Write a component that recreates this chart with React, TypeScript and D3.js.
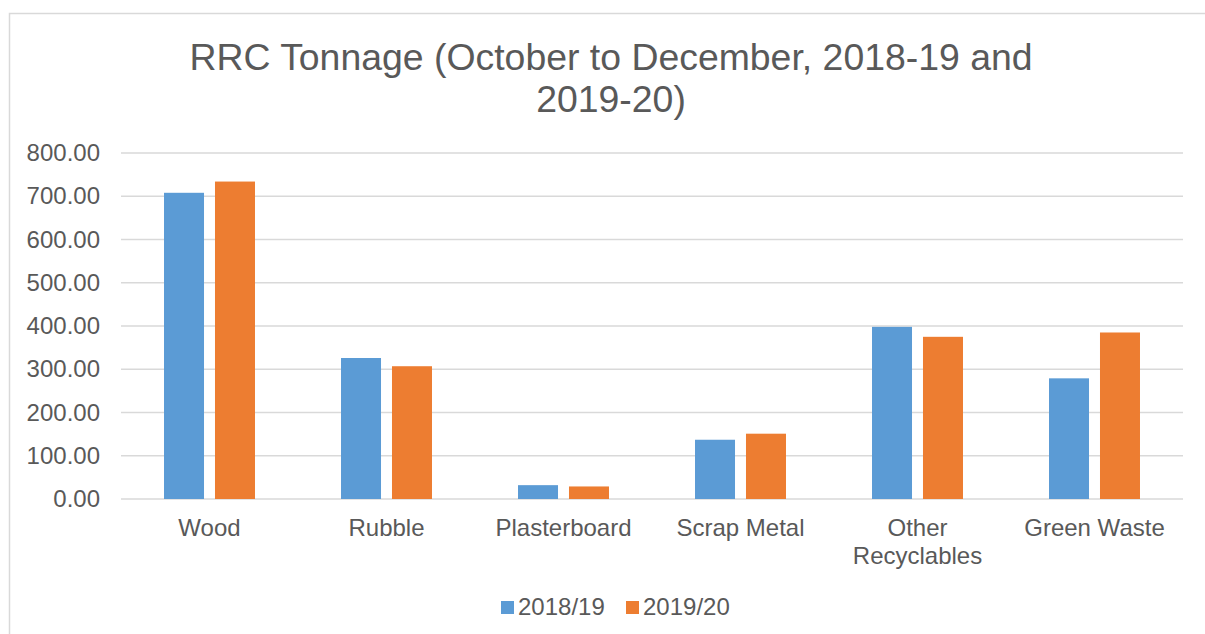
import React from "react";
import * as d3 from "d3";

const categories = ["Wood", "Rubble", "Plasterboard", "Scrap Metal", "Other Recyclables", "Green Waste"];
const seriesNames = ["2018/19", "2019/20"];
const values1819 = [708, 326, 32, 137, 398, 279];
const values1920 = [734, 307, 29, 151, 375, 385];
const yTicks = [0, 100, 200, 300, 400, 500, 600, 700, 800];
const titleLines = ["RRC Tonnage (October to December, 2018-19 and", "2019-20)"];

const colors = ["#5b9bd5", "#ed7d31"];
const textColor = "#595959";
const gridColor = "#d9d9d9";
const font = "'Liberation Sans', Arial, sans-serif";

function wrapLabel(s: string) {
  // long category names go on two lines, like the original
  if (s.length > 12 && s.includes(" ")) return s.split(" ");
  return [s];
}

export default function App() {
  const width = 1205;
  const height = 634;
  const left = 121;
  const right = 1183;
  const top = 153;
  const bottom = 499;

  const x = d3.scaleBand<string>().domain(categories).range([left, right]);
  const y = d3.scaleLinear().domain([0, 800]).range([bottom, top]);
  const bw = x.bandwidth();
  const barW = bw * 0.226;
  const gap = bw * 0.062;
  const fmt = d3.format(".2f");
  const series = [values1819, values1920];

  return (
    <svg
      width={width}
      height={height}
      style={{ position: "absolute", left: 0, top: 0, background: "#fff" }}
      fontFamily={font}
    >
      <rect x={9.5} y={13.5} width={1300} height={700} fill="#fff" stroke={gridColor} strokeWidth={1.5} />

      <text textAnchor="middle" fill={textColor} fontSize={37.4}>
        {titleLines.map((t, i) => (
          <tspan key={i} x={611} y={70 + i * 42}>
            {t}
          </tspan>
        ))}
      </text>

      {yTicks.map((t) => (
        <g key={t}>
          <line x1={left} x2={right} y1={y(t)} y2={y(t)} stroke={gridColor} strokeWidth={1.5} />
          <text x={100} y={y(t) + 8} textAnchor="end" fontSize={24} fill={textColor}>
            {fmt(t)}
          </text>
        </g>
      ))}

      {categories.map((c, i) => {
        const cx = (x(c) as number) + bw / 2;
        return (
          <g key={c}>
            {series.map((vals, s) => {
              const bx = s === 0 ? cx - gap / 2 - barW : cx + gap / 2;
              return (
                <rect
                  key={s}
                  x={bx}
                  y={y(vals[i])}
                  width={barW}
                  height={y(0) - y(vals[i])}
                  fill={colors[s]}
                />
              );
            })}
            <text textAnchor="middle" fontSize={24} fill={textColor}>
              {wrapLabel(c).map((l, k) => (
                <tspan key={k} x={cx} y={536 + k * 28}>
                  {l}
                </tspan>
              ))}
            </text>
          </g>
        );
      })}

      {seriesNames.map((n, i) => {
        const lx = 501 + i * 125;
        return (
          <g key={n}>
            <rect x={lx} y={601} width={13} height={13} fill={colors[i]} />
            <text x={lx + 17} y={615} fontSize={24} fill={textColor}>
              {n}
            </text>
          </g>
        );
      })}
    </svg>
  );
}
